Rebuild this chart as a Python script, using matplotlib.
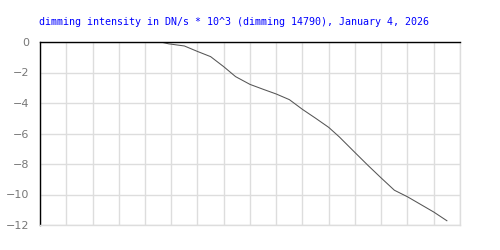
import matplotlib
matplotlib.use("Agg")
import matplotlib.pyplot as plt

# dimming curve
x = [4.6, 4.9, 5.5, 6.0, 6.5, 7.0, 7.45, 8.0, 8.5, 9.0, 9.5, 10.0, 10.5, 11.0, 11.4,
     12.0, 12.5, 13.0, 13.5, 14.0, 14.5, 15.0, 15.5]
y = [0.0, -0.12, -0.26, -0.62, -0.96, -1.62, -2.27, -2.78, -3.1, -3.41, -3.78, -4.42,
     -5.0, -5.6, -6.22, -7.25, -8.1, -8.92, -9.72, -10.15, -10.65, -11.15, -11.72]
yticks = [0, -2, -4, -6, -8, -10, -12]
title = "dimming intensity in DN/s * 10^3 (dimming 14790), January 4, 2026"

fig = plt.figure(figsize=(5, 2.5), dpi=100)
ax = fig.add_axes([0.08, 0.1, 0.84, 0.732])

ax.plot(x, y, color="#555555", linewidth=0.75)

ax.set_xlim(0, 16)
ax.set_ylim(-12, 0)
ax.set_xticks(range(0, 17))
ax.set_xticklabels([])
ax.set_yticks(yticks)
ax.set_yticklabels([str(v).replace("-", "\u2212") for v in yticks],
                   fontsize=8, color="#777777")
ax.tick_params(length=0, pad=8)
ax.grid(True, color="#dddddd", linewidth=1)
ax.set_axisbelow(True)

for s in ["right", "bottom"]:
    ax.spines[s].set_color("#dddddd")
    ax.spines[s].set_linewidth(1)
for s in ["left", "top"]:
    ax.spines[s].set_color("black")
    ax.spines[s].set_linewidth(1)

fig.text(0.468, 0.912, title, ha="center", va="center", color="blue",
         fontsize=7.2, family="DejaVu Sans Mono")

fig.savefig("out.png", dpi=100)
